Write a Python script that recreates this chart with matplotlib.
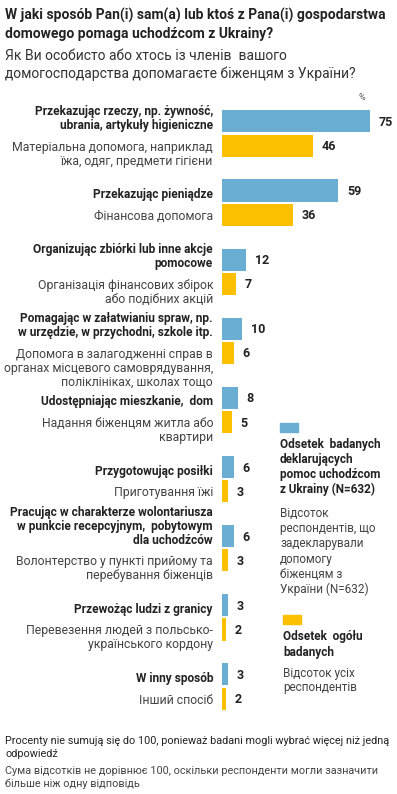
import numpy as np
import matplotlib
matplotlib.use('Agg')
import matplotlib.pyplot as plt
from matplotlib.patches import Rectangle

plt.rcParams['font.family'] = ['Roboto', 'DejaVu Sans']

# ==================== data ====================
labels_pl = [
    'Przekazując rzeczy, np. żywność,\nubrania, artykuły higieniczne',
    'Przekazując pieniądze',
    'Organizując zbiórki lub inne akcje\npomocowe',
    'Pomagając w załatwianiu spraw, np.\nw urzędzie, w przychodni, szkole itp.',
    'Udostępniając mieszkanie,  dom',
    'Przygotowując posiłki',
    'Pracując w charakterze wolontariusza\nw punkcie recepcyjnym,  pobytowym\ndla uchodźców',
    'Przewożąc ludzi z granicy',
    'W inny sposób',
]
labels_ua = [
    'Матеріальна допомога, наприклад\nїжа, одяг, предмети гігієни',
    'Фінансова допомога',
    'Організація фінансових збірок\nабо подібних акцій',
    'Допомога в залагодженні справ в\nорганах місцевого самоврядування,\nполіклініках, школах тощо',
    'Надання біженцям житла або\nквартири',
    'Приготування їжі',
    'Волонтерство у пункті прийому та\nперебування біженців',
    'Перевезення людей з польсько-\nукраїнського кордону',
    'Інший спосіб',
]
helpers = [75, 59, 12, 10, 8, 6, 6, 3, 3]   # % badanych deklarujących pomoc (N=632)
total = [46, 36, 7, 6, 5, 3, 3, 2, 2]       # % ogółu badanych

title_pl = 'W jaki sposób Pan(i) sam(a) lub ktoś z Pana(i) gospodarstwa\ndomowego pomaga uchodźcom z Ukrainy?'
title_ua = 'Як Ви особисто або хтось із членів  вашого\nдомогосподарства допомагаєте біженцям з України?'
legend_pl = ['Odsetek  badanych\ndeklarujących\npomoc uchodźcom\nz Ukrainy (N=632)', 'Odsetek  ogółu\nbadanych']
legend_ua = ['Відсоток\nреспондентів, що\nзадекларували\nдопомогу\nбіженцям з\nУкраїни (N=632)', 'Відсоток усіх\nреспондентів']
note_pl = 'Procenty nie sumują się do 100, ponieważ badani mogli wybrać więcej niż jedną\nodpowiedź'
note_ua = 'Сума відсотків не дорівнює 100, оскільки респонденти могли зазначити\nбільше ніж одну відповідь'

BLUE = '#6aaed3'
YELLOW = '#fdc000'
DARK = '#222222'
GREY = '#444444'

W, H = 397, 794
fig = plt.figure(figsize=(W / 100, H / 100), dpi=100)


def fx(px):
    return px / W


def fy(py):
    return 1 - py / H


def fig_lines(text, x, y0, step, **kw):
    # każda linia osobno, y0 = linia bazowa pierwszej linii (px od góry)
    for k, line in enumerate(text.split('\n')):
        fig.text(fx(x), fy(y0 + k * step), line, ha='left', va='baseline', **kw)


# oś z wykresem: para 0 w 133.5 px, para 8 w 686.5 px
ax = fig.add_axes([fx(222), fy(728), fx(173.6), (728 - 92) / H])
y = np.arange(len(helpers))
off, bh = 0.175, 0.32
bars1 = ax.barh(y - off, helpers, height=bh, color=BLUE)
bars2 = ax.barh(y + off, total, height=bh, color=YELLOW)
ax.set_xlim(0, 88)
ax.set_ylim(8.6, -0.6)
ax.axis('off')

for b in list(bars1) + list(bars2):
    ax.annotate(f'{int(b.get_width())}', (b.get_width(), b.get_y() + b.get_height() / 2),
                xytext=(9, -1), textcoords='offset pixels', ha='left', va='center',
                fontsize=9, fontweight='bold', color=DARK)

# etykiety kategorii: PL nad środkiem niebieskiego słupka, UA od środka żółtego w dół
LS = 14
for i in range(len(helpers)):
    lines = labels_pl[i].split('\n')
    n = len(lines)
    for k, line in enumerate(lines):
        ax.annotate(line, (0, y[i] - off), xytext=(-9, -(7.5 - (n - 1 - k) * LS)),
                    textcoords='offset pixels', ha='right', va='baseline', fontsize=8.6,
                    fontweight='bold', color=DARK, annotation_clip=False)
    for k, line in enumerate(labels_ua[i].split('\n')):
        ax.annotate(line, (0, y[i] + off), xytext=(-9, -(5 + k * LS)),
                    textcoords='offset pixels', ha='right', va='baseline', fontsize=8.8,
                    color=GREY, annotation_clip=False)

fig.text(fx(362), fy(97), '%', fontsize=6.5, color='#555555', ha='center', va='center')

# tytuł
fig_lines(title_pl, 5, 20, 18, fontsize=10, fontweight='bold', color=DARK)
fig_lines(title_ua, 5, 60, 18, fontsize=10, color='#333333')

# legenda
fig.patches.append(Rectangle((fx(280), fy(432)), fx(18), 9 / H, color=BLUE,
                             transform=fig.transFigure, figure=fig))
fig_lines(legend_pl[0], 280, 448, 15, fontsize=8.5, fontweight='bold', color=DARK)
fig_lines(legend_ua[0], 280, 517, 15.2, fontsize=8.5, color=GREY)
fig.patches.append(Rectangle((fx(283), fy(624)), fx(18), 9 / H, color=YELLOW,
                             transform=fig.transFigure, figure=fig))
fig_lines(legend_pl[1], 283, 640, 16, fontsize=8.5, fontweight='bold', color=DARK)
fig_lines(legend_ua[1], 283, 677, 14, fontsize=8.5, color=GREY)

# przypisy
fig_lines(note_pl, 5, 744, 13, fontsize=7.8, color=DARK)
fig_lines(note_ua, 5, 774, 13, fontsize=7.8, color=GREY)

fig.savefig('out.png', dpi=100, facecolor='white')
